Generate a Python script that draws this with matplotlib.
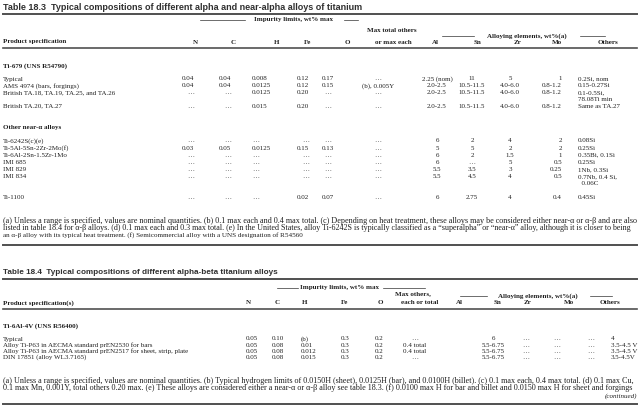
import matplotlib
matplotlib.use("Agg")
import matplotlib.pyplot as plt
from matplotlib.lines import Line2D

E = "\u2026"

# ---- Table 18.3 data ----
t3_title = "Table 18.3  Typical compositions of different alpha and near-alpha alloys of titanium"
t3_cols = ["N", "C", "H", "Fe", "O", "Al", "Sn", "Zr", "Mo", "Others"]

grp1_name = "Ti-679 (UNS R54790)"
grp1_spec = ["Typical", "AMS 4974 (bars, forgings)",
             "British TA.18, TA.19, TA.25, and TA.26", "British TA.20, TA.27"]
grp1_N = ["0.04", "0.04", E, E]
grp1_C = ["0.04", "0.04", E, E]
grp1_H = ["0.008", "0.0125", "0.0125", "0.015"]
grp1_Fe = ["0.12", "0.12", "0.20", "0.20"]
grp1_O = ["0.17", "0.15", E, E]
grp1_max = [E, "(b), 0.005Y", E, E]
grp1_Al = ["2.25 (nom)", "2.0-2.5", "2.0-2.5", "2.0-2.5"]
grp1_Sn = ["11", "10.5-11.5", "10.5-11.5", "10.5-11.5"]
grp1_Zr = ["5", "4.0-6.0", "4.0-6.0", "4.0-6.0"]
grp1_Mo = ["1", "0.8-1.2", "0.8-1.2", "0.8-1.2"]
grp1_oth = ["0.2Si, nom", "0.15-0.27Si", "0.1-0.5Si,\n78.08Ti min", "Same as TA.27"]

grp2_name = "Other near-\u03b1 alloys"
grp2_spec = ["Ti-6242S(c)(e)", "Ti-5Al-5Sn-2Zr-2Mo(f)", "Ti-6Al-2Sn-1.5Zr-1Mo",
             "IMI 685", "IMI 829", "IMI 834", "Ti-1100"]
grp2_N = [E, "0.03", E, E, E, E, E]
grp2_C = [E, "0.05", E, E, E, E, E]
grp2_H = [E, "0.0125", E, E, E, E, E]
grp2_Fe = [E, "0.15", E, E, E, E, "0.02"]
grp2_O = [E, "0.13", E, E, E, E, "0.07"]
grp2_max = [E, E, E, E, E, E, E]
grp2_Al = ["6", "5", "6", "6", "5.5", "5.5", "6"]
grp2_Sn = ["2", "5", "2", E, "3.5", "4.5", "2.75"]
grp2_Zr = ["4", "2", "1.5", "5", "3", "4", "4"]
grp2_Mo = ["2", "2", "1", "0.5", "0.25", "0.5", "0.4"]
grp2_oth = ["0.08Si", "0.25Si", "0.35Bi, 0.1Si", "0.25Si", "1Nb, 0.3Si",
            "0.7Nb, 0.4 Si,\n  0.06C", "0.45Si"]

t3_notes = [
    "(a) Unless a range is specified, values are nominal quantities. (b) 0.1 max each and 0.4 max total. "
    "(c) Depending on heat treatment, these alloys may be considered either near-\u03b1 or \u03b1-\u03b2 and are also",
    "listed in table 18.4 for \u03b1-\u03b2 alloys. (d) 0.1 max each and 0.3 max total. (e) In the United States, "
    "alloy Ti-6242S is typically classified as a \u201csuperalpha\u201d or \u201cnear-\u03b1\u201d alloy, although it is closer to being",
    "an \u03b1-\u03b2 alloy with its typical heat treatment. (f) Semicommercial alloy with a UNS designation of R54560",
]

# ---- Table 18.4 data ----
t4_title = "Table 18.4  Typical compositions of different alpha-beta titanium alloys"
grp3_name = "Ti-6Al-4V (UNS R56400)"
grp3_spec = ["Typical", "Alloy Ti-P63 in AECMA standard prEN2530 for bars",
             "Alloy Ti-P63 in AECMA standard prEN2517 for sheet, strip, plate",
             "DIN 17851 (alloy WL3.7165)"]
grp3_N = ["0.05", "0.05", "0.05", "0.05"]
grp3_C = ["0.10", "0.08", "0.08", "0.08"]
grp3_H = ["(b)", "0.01", "0.012", "0.015"]
grp3_Fe = ["0.3", "0.3", "0.3", "0.3"]
grp3_O = ["0.2", "0.2", "0.2", "0.2"]
grp3_max = [E, "0.4 total", "0.4 total", E]
grp3_Al = ["6", "5.5-6.75", "5.5-6.75", "5.5-6.75"]
grp3_Sn = [E, E, E, E]
grp3_Zr = [E, E, E, E]
grp3_Mo = [E, E, E, E]
grp3_oth = ["4", "3.5-4.5 V", "3.5-4.5 V", "3.5-4.5V"]

t4_notes = [
    "(a) Unless a range is specified, values are nominal quantities. (b) Typical hydrogen limits of 0.0150H (sheet), "
    "0.0125H (bar), and 0.0100H (billet). (c) 0.1 max each, 0.4 max total. (d) 0.1 max Cu,",
    "0.1 max Mn, 0.001Y, total others 0.20 max. (e) These alloys are considered either a near-\u03b1 or \u03b1-\u03b2 "
    "alloy see table 18.3. (f) 0.0100 max H for bar and billet and 0.0150 max H for sheet and forgings",
]

W, H = 640, 418
fig = plt.figure(figsize=(6.4, 4.18), dpi=100)
fig.patch.set_facecolor("white")
INK = "#202020"
SERIF = "Liberation Serif"
FS = 5.0


def T(x, y, s, size=FS, ha="left", weight="normal", family=SERIF, style="normal", color=INK):
    return fig.text(x / W, 1 - y / H, s, fontsize=size, ha=ha, va="center",
                    fontweight=weight, family=family, fontstyle=style, color=color)


def rule(x0, x1, y, lw=1.0, color="#505050"):
    fig.add_artist(Line2D([x0 / W, x1 / W], [1 - y / H, 1 - y / H],
                          transform=fig.transFigure, lw=lw, color=color))


def fit(t, width):
    r = fig.canvas.get_renderer()
    w = t.get_window_extent(r).width
    t.set_fontsize(t.get_fontsize() * width / w)


def rows(y0, step, cols, data, spec, extra=()):
    y = y0
    for i in range(len(spec)):
        T(3, y, spec[i])
        wrapped = False
        for (x, ha), vals in zip(cols, data):
            parts = vals[i].split("\n")
            for k, p in enumerate(parts):
                T(x, y + k * step, p, ha=ha)
            wrapped = wrapped or len(parts) > 1
        y += step * (2 if wrapped else 1)
        if i in extra:
            y += step * 1.0


# ================= Table 18.3 =================
t = T(3, 8, t3_title, size=7, weight="bold", family="Liberation Sans", color="#303030")
fit(t, 359)
rule(3, 637, 14, lw=1.4)

T(294, 20, "Impurity limits, wt% max", ha="center", weight="bold")
rule(200, 245, 20, lw=0.5, color="#333333")
rule(344, 358, 20, lw=0.5, color="#333333")
T(392, 31, "Max total others", ha="center", weight="bold")
T(527, 36, "Alloying elements, wt%(a)", ha="center", weight="bold")
rule(442, 474, 36, lw=0.5, color="#333333")
rule(580, 605, 36, lw=0.5, color="#333333")

hy = 42
T(3, hy, "Product specification", weight="bold")
for name, x in zip(t3_cols, [195, 233, 277, 308, 347, 435, 477, 517, 557, 608]):
    T(x, hy, name, ha="center", weight="bold")
T(393, hy, "or max each", ha="center", weight="bold")
rule(3, 637, 48, lw=1.2)

cols3 = [(194, "right"), (231, "right"), (252, "left"), (309, "right"), (328, "center"),
         (378, "center"), (437, "center"), (472, "center"), (510, "center"),
         (562, "right"), (578, "left")]

T(3, 66, grp1_name, weight="bold")
rows(79, 6.8, cols3,
     [grp1_N, grp1_C, grp1_H, grp1_Fe, grp1_O, grp1_max, grp1_Al, grp1_Sn, grp1_Zr, grp1_Mo, grp1_oth],
     grp1_spec)

T(3, 127, grp2_name, weight="bold")
rows(141, 7.1, cols3,
     [grp2_N, grp2_C, grp2_H, grp2_Fe, grp2_O, grp2_max, grp2_Al, grp2_Sn, grp2_Zr, grp2_Mo, grp2_oth],
     grp2_spec, extra=(5,))

for k, line in enumerate(t3_notes):
    t = T(3, 221 + k * 7, line)
    fit(t, 634 if k < 2 else 300)
rule(3, 637, 245, lw=1.4)

# ================= Table 18.4 =================
t = T(3, 272, t4_title, size=7, weight="bold", family="Liberation Sans", color="#303030")
fit(t, 275)
rule(3, 637, 279, lw=1.4)

T(340, 288, "Impurity limits, wt% max", ha="center", weight="bold")
rule(277, 298, 288, lw=0.5, color="#333333")
rule(383, 425, 288, lw=0.5, color="#333333")
T(413, 294, "Max others,", ha="center", weight="bold")
T(538, 296, "Alloying elements, wt%(a)", ha="center", weight="bold")
rule(460, 487, 296, lw=0.5, color="#333333")
rule(590, 612, 296, lw=0.5, color="#333333")

hy = 303
T(3, hy, "Product specification(s)", weight="bold")
for name, x in zip(t3_cols, [248, 277, 305, 345, 380, 459, 497, 528, 569, 610]):
    T(x, hy, name, ha="center", weight="bold")
T(420, hy, "each or total", ha="center", weight="bold")
rule(3, 637, 309, lw=1.2)

cols4 = [(252, "center"), (278, "center"), (301, "left"), (345, "center"), (379, "center"),
         (415, "center"), (493, "center"), (526, "center"), (557, "center"),
         (591, "center"), (611, "left")]

T(3, 326, grp3_name, weight="bold")
rows(339, 6.2, cols4,
     [grp3_N, grp3_C, grp3_H, grp3_Fe, grp3_O, grp3_max, grp3_Al, grp3_Sn, grp3_Zr, grp3_Mo, grp3_oth],
     grp3_spec)

for k, line in enumerate(t4_notes):
    t = T(3, 381 + k * 7, line)
    fit(t, 634)
T(637, 396, "(continued)", ha="right", style="italic")
rule(3, 637, 404, lw=1.4)

plt.savefig("out.png", dpi=100, facecolor="white")
